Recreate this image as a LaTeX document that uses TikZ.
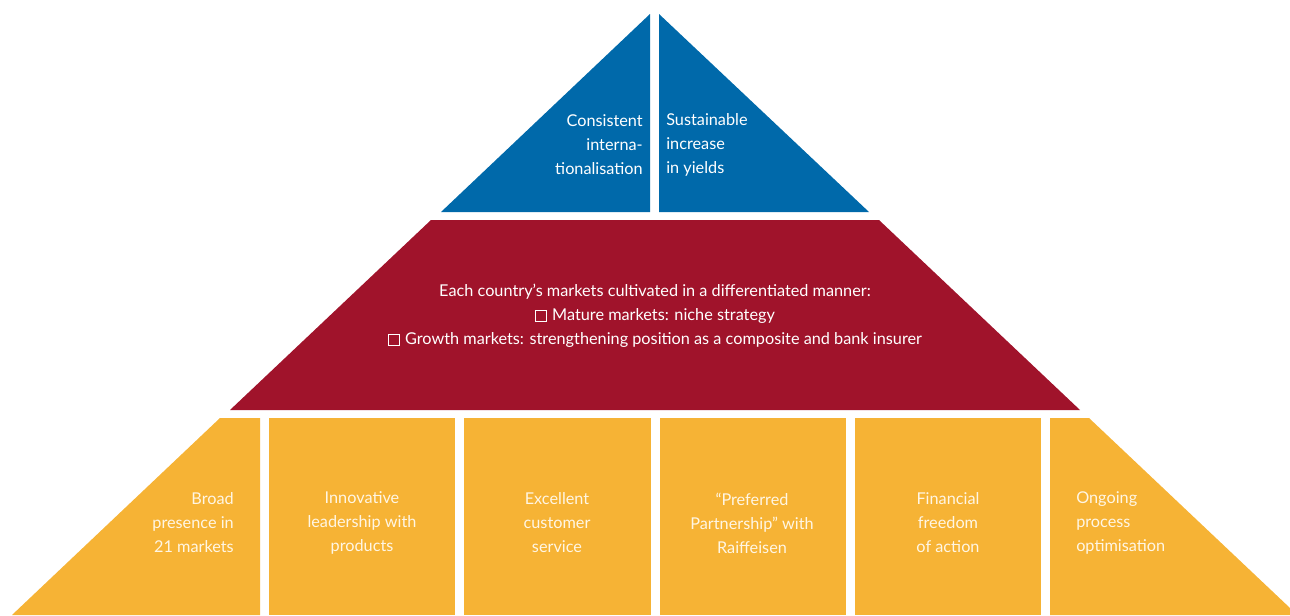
\documentclass[tikz,border=0pt]{standalone}
\usepackage{fontspec}
\setmainfont{Lato}
\definecolor{topblue}{HTML}{0069AA}
\definecolor{midred}{HTML}{A0132B}
\definecolor{baseyellow}{HTML}{F6B335}
\definecolor{paletext}{HTML}{FFF6E4}
\newcommand{\boxmark}{{\setlength{\fboxsep}{0pt}\setlength{\fboxrule}{0.9pt}\fbox{\rule{0pt}{7pt}\hspace{7pt}}}\hspace{4pt}}
\begin{document}
\begin{tikzpicture}[x=0.75pt,y=-0.75pt,
      every node/.style={font=\fontsize{12.2}{18}\selectfont,inner sep=0pt},
      toptext/.style={text=white},
      midtext/.style={text=white,align=center},
      basetext/.style={text=paletext}]
    \useasboundingbox (0,0) rectangle (1290,615);
    \fill[topblue] (650,14) -- (441,212) -- (650,212) -- cycle;
    \fill[topblue] (659,14) -- (869,212) -- (659,212) -- cycle;
    \fill[midred] (431,220) -- (879,220) -- (1080,410) -- (230,410) -- cycle;
    \fill[baseyellow] (220,418) -- (260,418) -- (260,615) -- (12,615) -- cycle;
    \fill[baseyellow] (269,418) rectangle (455,615);
    \fill[baseyellow] (464,418) rectangle (651,615);
    \fill[baseyellow] (660,418) rectangle (846,615);
    \fill[baseyellow] (855,418) rectangle (1041,615);
    \fill[baseyellow] (1050,418) -- (1089,418) -- (1290,608) -- (1290,615) -- (1050,615) -- cycle;
    \node[toptext,align=right,anchor=east] (intl) at (643,145)
        {Consistent\\interna-\\tionalisation};
    \node[toptext,align=left,anchor=west] (yields) at (666,145)
        {Sustainable\\increase\\in yields};
    \node[midtext] (markets) at (655,316)
        {Each country’s markets cultivated in a differentiated manner:\\
         \boxmark Mature markets: niche strategy\\
         \boxmark Growth markets: strengthening position as a composite and bank insurer};
    \node[basetext,align=right,anchor=east] (presence) at (234,523)
        {Broad\\presence in\\21 markets};
    \node[basetext,align=center] (products) at (362,523)
        {Innovative\\leadership with\\products};
    \node[basetext,align=center] (service) at (557,523)
        {Excellent\\customer\\service};
    \node[basetext,align=center] (partner) at (752,523)
        {“Preferred\\Partnership” with\\Raiffeisen};
    \node[basetext,align=center] (freedom) at (948,523)
        {Financial\\freedom\\of action};
    \node[basetext,align=left,anchor=west] (process) at (1076,523)
        {Ongoing\\process\\optimisation};
\end{tikzpicture}
\end{document}
